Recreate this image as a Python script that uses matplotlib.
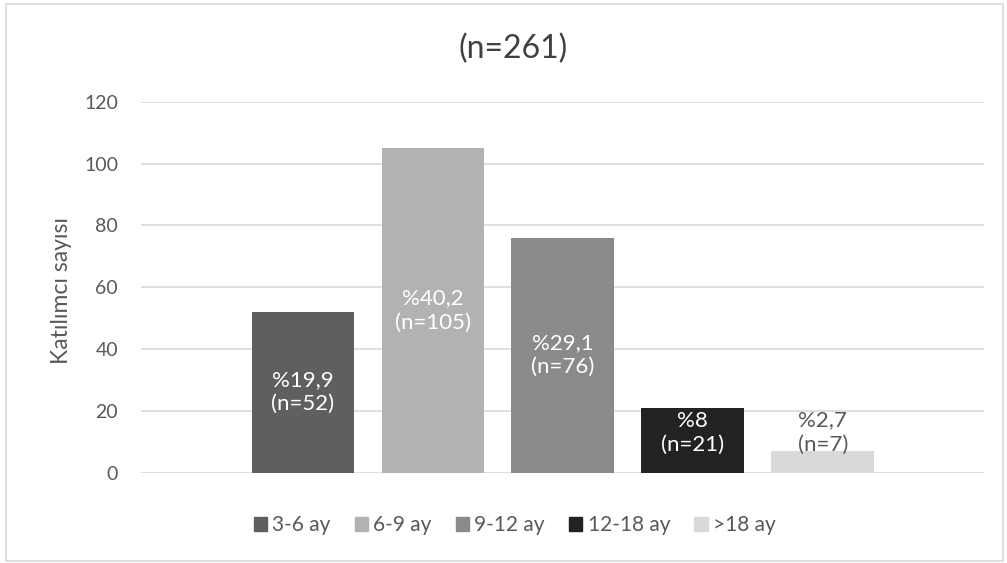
import matplotlib.pyplot as plt
from matplotlib.patches import Patch, Rectangle

categories = ["3-6 ay", "6-9 ay", "9-12 ay", "12-18 ay", ">18 ay"]
counts = [52, 105, 76, 21, 7]
percents = ["%19,9", "%40,2", "%29,1", "%8", "%2,7"]
colors = ["#5f5f5f", "#b2b2b2", "#8a8a8a", "#222222", "#d9d9d9"]
text_colors = ["white", "white", "white", "white", "#595959"]

plt.rcParams['font.family'] = ['Lato', 'DejaVu Sans']

fig = plt.figure(figsize=(10.07, 5.63), dpi=100)
ax = fig.add_axes([0.140, 0.1604, 0.837, 0.659])

x = list(range(len(categories)))
ax.bar(x, counts, width=0.79, color=colors, zorder=3)

for i, (c, p) in enumerate(zip(counts, percents)):
    ypos = max(c / 2, 13)
    ax.text(i, ypos, p + "\n(n=" + str(c) + ")", ha="center", va="center",
            color=text_colors[i], fontsize=16, linespacing=1.25, zorder=4)

ax.set_xlim(-1.246, 5.24)
ax.set_ylim(0, 120)
ax.set_yticks(range(0, 121, 20))
ax.set_xticks([])
ax.grid(axis="y", color="#d9d9d9", linewidth=1.2, zorder=0)
for s in ax.spines.values():
    s.set_visible(False)
ax.tick_params(axis="y", length=0, labelsize=14, labelcolor="#595959", pad=16.5)

fig.text(61 / 1007, 1 - 290 / 563, "Katılımcı sayısı", rotation=90, ha="center", va="center",
         fontsize=16.5, color="#595959")

fig.text(0.5095, 0.913, "(n=261)", ha="center", va="center", fontsize=23, color="#404040")

handles = [Patch(color=c, label=l) for c, l in zip(colors, categories)]
fig.legend(handles=handles, loc="center", bbox_to_anchor=(0.511, 0.067), ncol=5,
           frameon=False, fontsize=15, handlelength=0.65, handleheight=0.65,
           handletextpad=0.25, columnspacing=1.15, labelcolor="#595959",
           borderpad=0, borderaxespad=0)

fig.patches.append(Rectangle((0.006, 0.003), 0.99, 0.99, transform=fig.transFigure,
                             fill=False, edgecolor="#d9d9d9", linewidth=1.2))

plt.savefig("out.png", dpi=100)
plt.close()
